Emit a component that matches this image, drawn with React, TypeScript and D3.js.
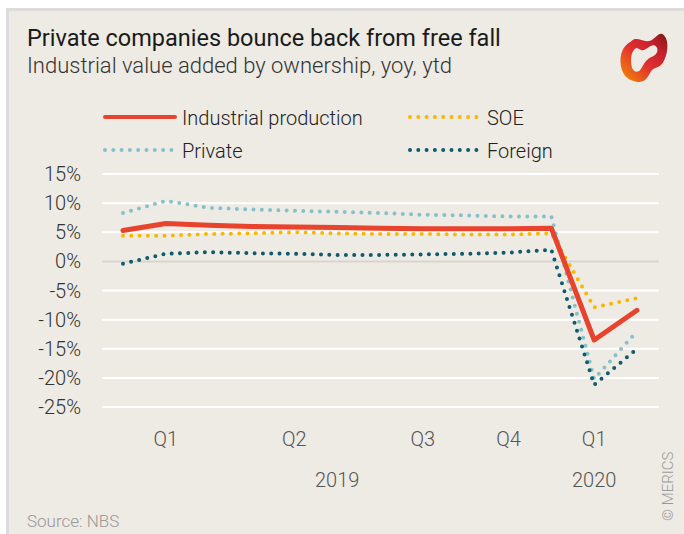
import React from "react";
import * as d3 from "d3";

const months = ["Jan-Feb 2019","Mar 2019","Apr 2019","May 2019","Jun 2019","Jul 2019","Aug 2019","Sep 2019","Oct 2019","Nov 2019","Dec 2019","Jan-Feb 2020","Mar 2020"];
const quarterLabels = ["", "Q1", "", "", "Q2", "", "", "Q3", "", "Q4", "", "Q1", ""];
const yearLabels = ["", "", "", "", "", "2019", "", "", "", "", "", "2020", ""];

const industrial = [5.3, 6.5, 6.2, 6.0, 5.9, 5.8, 5.7, 5.6, 5.6, 5.6, 5.7, -13.5, -8.4];
const soe = [4.4, 4.4, 4.7, 4.8, 5.0, 4.8, 4.7, 4.7, 4.6, 4.6, 4.8, -7.9, -6.3];
const privateCo = [8.3, 10.4, 9.2, 8.9, 8.7, 8.5, 8.3, 8.0, 7.9, 7.7, 7.7, -20.2, -12.0];
const foreign = [-0.4, 1.3, 1.6, 1.4, 1.3, 1.1, 1.1, 1.2, 1.3, 1.5, 2.0, -21.2, -15.0];

const yTicks = [15, 10, 5, 0, -5, -10, -15, -20, -25];

const FONT = "Roboto, 'Open Sans', sans-serif";

type Series = { name: string; values: number[]; color: string; dotted: boolean };

const series: Series[] = [
  { name: "Industrial production", values: industrial, color: "#e8432d", dotted: false },
  { name: "SOE", values: soe, color: "#f9b800", dotted: true },
  { name: "Private", values: privateCo, color: "#86c1c9", dotted: true },
  { name: "Foreign", values: foreign, color: "#0f5a6d", dotted: true },
];

export default function App() {
  const W = 684, H = 534;
  const x = d3.scalePoint<number>().domain(months.map((_, i) => i)).range([123, 637]);
  const y = d3.scaleLinear().domain([-25, 15]).range([407, 174]);
  const line = d3.line<number>().x((_, i) => x(i) as number).y((v) => y(v));

  const legendPos = [
    { x: 105, y: 117 },
    { x: 410, y: 117 },
    { x: 105, y: 150 },
    { x: 410, y: 150 },
  ];

  const strokeProps = (s: Series, w: number) =>
    s.dotted
      ? { stroke: s.color, strokeWidth: 4, strokeDasharray: "0 8.3", strokeLinecap: "round" as const }
      : { stroke: s.color, strokeWidth: w, strokeLinecap: "round" as const };

  const drawOrder = [series[1], series[2], series[3], series[0]];

  return (
    <svg width={W} height={H} style={{ position: "absolute", left: 0, top: 0, fontFamily: FONT }}>
      <defs>
        <linearGradient id="logoG" x1="0" y1="1" x2="1" y2="0">
          <stop offset="0" stopColor="#f39200" />
          <stop offset="0.45" stopColor="#e2312f" />
          <stop offset="0.75" stopColor="#c41f2d" />
          <stop offset="1" stopColor="#7a1a10" />
        </linearGradient>
      </defs>
      <rect x={0} y={0} width={W} height={H} fill="#ffffff" />
      <rect x={6} y={8} width={W - 6} height={H - 8} fill="#dcdcdc" />
      <rect x={9} y={11} width={W - 9} height={H - 11} fill="#eeeae4" />

      {/* Title */}
      <text x={27} y={46} fontSize={23.5} fill="#1a1a1a" fontWeight={400}>Private companies bounce back from free fall</text>
      <text x={27} y={73} fontSize={22} fill="#333" fontWeight={300}>Industrial value added by ownership, yoy, ytd</text>

      {/* Logo */}
      <g transform="translate(617,31) scale(1,1.05)">
        <path
          d="M14,10 C20,4 26,12 34,9 C40,6 42,0 47,4 C53,10 50,24 46,30 C42,36 36,34 33,40 C30,46 26,50 18,48 C10,46 6,42 4,34 C2,22 6,14 14,10 Z M18,17 C14,20 13,28 15,35 C17,40 22,40 24,36 C27,31 30,26 36,24 C41,22 42,16 38,14 C33,12 29,20 24,18 C21,17 20,15 18,17 Z"
          fill="url(#logoG)"
          fillRule="evenodd"
        />
      </g>

      {/* Legend */}
      {series.map((s, i) => (
        <g key={s.name}>
          <line x1={legendPos[i].x} x2={legendPos[i].x + 70} y1={legendPos[i].y} y2={legendPos[i].y} {...strokeProps(s, 4)} />
          <text x={legendPos[i].x + 77} y={legendPos[i].y + 8} fontSize={20} fontWeight={300} fill="#222">{s.name}</text>
        </g>
      ))}

      {/* Gridlines */}
      {yTicks.map((t) => (
        <line key={t} x1={102} x2={659} y1={y(t)} y2={y(t)} stroke={t === 0 ? "#d8d6d3" : "#ffffff"} strokeWidth={2} />
      ))}
      {yTicks.map((t) => (
        <text key={"l" + t} x={81} y={y(t) + 7} textAnchor="end" fontSize={20} fontWeight={300} fill="#333">{t}%</text>
      ))}

      {/* Lines */}
      {drawOrder.map((s) => (
        <path key={s.name} d={line(s.values) || ""} fill="none" {...strokeProps(s, 5)} strokeLinejoin="round" />
      ))}

      {/* X labels */}
      {quarterLabels.map((q, i) => q ? (
        <text key={"q" + i} x={x(i)} y={446} textAnchor="middle" fontSize={20} fontWeight={300} fill="#555">{q}</text>
      ) : null)}
      {yearLabels.map((q, i) => q ? (
        <text key={"yr" + i} x={x(i)} y={487} textAnchor="middle" fontSize={20} fontWeight={300} fill="#555">{q}</text>
      ) : null)}

      <text x={27} y={527} fontSize={17} fontWeight={300} fill="#999">Source: NBS</text>
      <text transform="translate(673,521) rotate(-90)" fontSize={15} fontWeight={300} fill="#999">© MERICS</text>
    </svg>
  );
}
